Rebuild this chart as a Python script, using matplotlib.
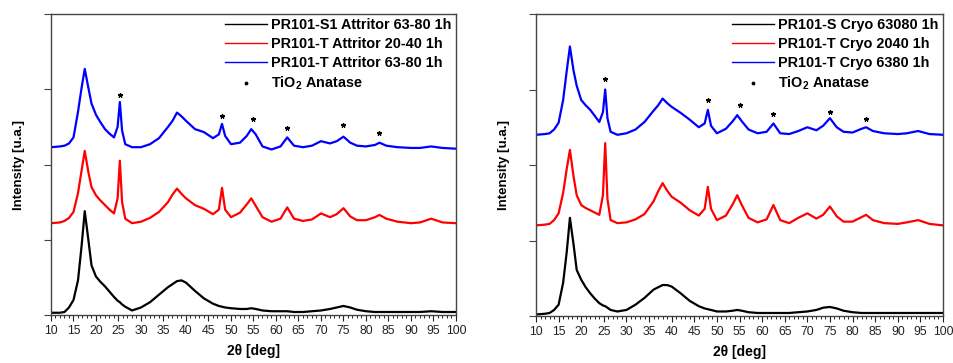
import matplotlib
matplotlib.use("Agg")
import matplotlib.pyplot as plt
from matplotlib.ticker import MultipleLocator
from matplotlib.lines import Line2D

plt.rcParams['font.family'] = ['Liberation Sans', 'DejaVu Sans']
plt.rcParams['mathtext.fontset'] = 'custom'
plt.rcParams['mathtext.bf'] = 'Liberation Sans:bold'
plt.rcParams['mathtext.rm'] = 'Liberation Sans'

# 2-theta positions (deg) shared by all patterns
two_theta = [10, 12, 13, 14, 15, 16, 16.8, 17.5, 18.3, 19,
             20, 21, 22, 23, 24, 24.8, 25.3, 25.8, 26.5, 28,
             30, 32, 34, 36, 37, 38, 39, 40, 42, 44,
             46, 47.3, 48, 48.7, 50, 52, 53.5, 54.5, 55.5, 57,
             59, 61, 62.5, 64, 66, 68, 70, 72, 73.5, 75,
             76.5, 78, 80, 82, 83, 84.5, 87, 90, 92, 94.5,
             97, 100]

# Attritor-milled samples (stacked, arbitrary units)
attritor_s1_6380 = [0.03, 0.03, 0.04, 0.10, 0.20, 0.46, 0.92, 1.38, 1.00, 0.66,
                    0.51, 0.44, 0.38, 0.31, 0.24, 0.19, 0.17, 0.14, 0.11, 0.06,
                    0.10, 0.17, 0.27, 0.37, 0.41, 0.45, 0.46, 0.43, 0.32, 0.22,
                    0.15, 0.12, 0.11, 0.10, 0.09, 0.08, 0.08, 0.09, 0.08, 0.06,
                    0.05, 0.05, 0.05, 0.04, 0.04, 0.05, 0.06, 0.08, 0.10, 0.12,
                    0.10, 0.07, 0.05, 0.04, 0.04, 0.04, 0.04, 0.04, 0.04, 0.05,
                    0.04, 0.04]
attritor_t_2040 = [1.22, 1.23, 1.25, 1.29, 1.37, 1.62, 1.92, 2.18, 1.90, 1.70,
                   1.59, 1.52, 1.46, 1.40, 1.35, 1.55, 2.05, 1.50, 1.28, 1.22,
                   1.24, 1.29, 1.37, 1.50, 1.60, 1.68, 1.61, 1.55, 1.46, 1.41,
                   1.34, 1.40, 1.69, 1.40, 1.30, 1.36, 1.47, 1.55, 1.45, 1.30,
                   1.24, 1.28, 1.43, 1.28, 1.25, 1.27, 1.35, 1.30, 1.34, 1.42,
                   1.31, 1.26, 1.26, 1.30, 1.33, 1.28, 1.24, 1.22, 1.23, 1.28,
                   1.23, 1.22]
attritor_t_6380 = [2.23, 2.24, 2.25, 2.28, 2.36, 2.70, 3.02, 3.27, 3.02, 2.81,
                   2.66, 2.56, 2.47, 2.41, 2.36, 2.50, 2.83, 2.45, 2.27, 2.23,
                   2.23, 2.27, 2.35, 2.50, 2.58, 2.69, 2.64, 2.58, 2.47, 2.43,
                   2.35, 2.40, 2.54, 2.38, 2.27, 2.29, 2.38, 2.47, 2.40, 2.24,
                   2.20, 2.24, 2.36, 2.25, 2.23, 2.25, 2.31, 2.28, 2.31, 2.37,
                   2.29, 2.25, 2.24, 2.26, 2.29, 2.25, 2.23, 2.22, 2.22, 2.24,
                   2.22, 2.21]

# Cryo-milled samples
cryo_s_63080 = [0.02, 0.03, 0.04, 0.08, 0.15, 0.44, 0.85, 1.30, 0.95, 0.61,
                0.48, 0.38, 0.30, 0.23, 0.17, 0.14, 0.13, 0.11, 0.08, 0.06,
                0.08, 0.15, 0.24, 0.35, 0.38, 0.41, 0.41, 0.39, 0.30, 0.20,
                0.13, 0.10, 0.09, 0.08, 0.06, 0.06, 0.07, 0.08, 0.07, 0.05,
                0.04, 0.04, 0.04, 0.04, 0.04, 0.05, 0.06, 0.08, 0.11, 0.12,
                0.10, 0.07, 0.05, 0.04, 0.04, 0.04, 0.04, 0.04, 0.04, 0.04,
                0.04, 0.04]
cryo_t_2040 = [1.20, 1.21, 1.22, 1.27, 1.36, 1.63, 1.95, 2.20, 1.85, 1.60,
               1.47, 1.43, 1.40, 1.37, 1.34, 1.60, 2.29, 1.55, 1.27, 1.23,
               1.24, 1.28, 1.35, 1.52, 1.65, 1.76, 1.66, 1.58, 1.50, 1.40,
               1.33, 1.42, 1.71, 1.42, 1.27, 1.33, 1.48, 1.60, 1.47, 1.30,
               1.24, 1.28, 1.47, 1.27, 1.23, 1.30, 1.36, 1.29, 1.34, 1.45,
               1.32, 1.25, 1.25, 1.31, 1.34, 1.27, 1.23, 1.22, 1.24, 1.27,
               1.22, 1.20]
cryo_t_6380 = [2.40, 2.41, 2.42, 2.47, 2.56, 2.86, 3.25, 3.57, 3.25, 3.05,
               2.86, 2.79, 2.73, 2.65, 2.57, 2.70, 3.00, 2.62, 2.44, 2.40,
               2.42, 2.47, 2.57, 2.72, 2.79, 2.88, 2.82, 2.77, 2.69, 2.60,
               2.50, 2.55, 2.73, 2.52, 2.42, 2.48, 2.58, 2.66, 2.58, 2.47,
               2.42, 2.44, 2.55, 2.42, 2.41, 2.45, 2.50, 2.46, 2.52, 2.62,
               2.50, 2.44, 2.43, 2.48, 2.50, 2.45, 2.42, 2.41, 2.42, 2.45,
               2.41, 2.40]

# TiO2 anatase reflections marked with stars
anatase_pos = [25.3, 48, 55, 62.5, 75, 83]
anatase_mark_attritor = [2.93, 2.65, 2.60, 2.48, 2.52, 2.42]
anatase_mark_cryo = [3.14, 2.86, 2.79, 2.67, 2.70, 2.61]

labels_attritor = ["PR101-S1 Attritor 63-80 1h",
                   "PR101-T Attritor 20-40 1h",
                   "PR101-T Attritor 63-80 1h"]
labels_cryo = ["PR101-S Cryo 63080 1h",
               "PR101-T Cryo 2040 1h",
               "PR101-T Cryo 6380 1h"]
anatase_label = r"TiO$_\mathbf{2}$ Anatase"

colors = ["black", "#ff0000", "#0000ff"]

fig = plt.figure(figsize=(9.54, 3.63), dpi=100)
ax1 = fig.add_axes([51 / 954, 48 / 363, 405 / 954, 301 / 363])
ax2 = fig.add_axes([536 / 954, 47 / 363, 407 / 954, 302 / 363])


def draw_panel(ax, series, labels, marks):
    handles = []
    for ys, lab, c in zip(series, labels, colors):
        ax.plot(two_theta, ys, color=c, lw=1.6)
        handles.append(Line2D([], [], color=c, lw=1.0, label=lab))
    ax.plot(anatase_pos, marks, linestyle="none", marker=(5, 2, 0),
            markersize=3.5, color="black", markeredgewidth=0.9)
    handles.append(Line2D([], [], linestyle="none", marker=".",
                          markersize=3.5, color="black", label=anatase_label))
    ax.set_xlim(10, 100)
    ax.set_ylim(0, 4)
    ax.xaxis.set_major_locator(MultipleLocator(5))
    ax.xaxis.set_minor_locator(MultipleLocator(1))
    ax.yaxis.set_major_locator(MultipleLocator(1))
    ax.tick_params(axis="x", which="major", direction="out", length=4,
                   width=0.8, labelsize=8.8, pad=3, colors="#222222")
    ax.tick_params(axis="x", which="minor", direction="out", length=2.5,
                   width=0.7, colors="#222222")
    ax.tick_params(axis="y", which="major", direction="out", length=5,
                   width=0.8, labelleft=False, colors="#444444")
    for sp in ax.spines.values():
        sp.set_color("#444444")
        sp.set_linewidth(1.0)
    ax.set_xlabel("2θ [deg]", fontsize=10, fontweight="bold", labelpad=5)
    ax.set_ylabel("Intensity [u.a.]", fontsize=9.5, fontweight="bold",
                  labelpad=14)
    ax.legend(handles=handles, loc="upper right", frameon=False,
              prop={"weight": "bold", "size": 10.4},
              handlelength=2.9, handletextpad=0.3,
              labelspacing=0.34, borderaxespad=0.1,
              borderpad=0.2)


draw_panel(ax1, [attritor_s1_6380, attritor_t_2040, attritor_t_6380],
           labels_attritor, anatase_mark_attritor)
draw_panel(ax2, [cryo_s_63080, cryo_t_2040, cryo_t_6380],
           labels_cryo, anatase_mark_cryo)

fig.savefig("out.png", dpi=100)
